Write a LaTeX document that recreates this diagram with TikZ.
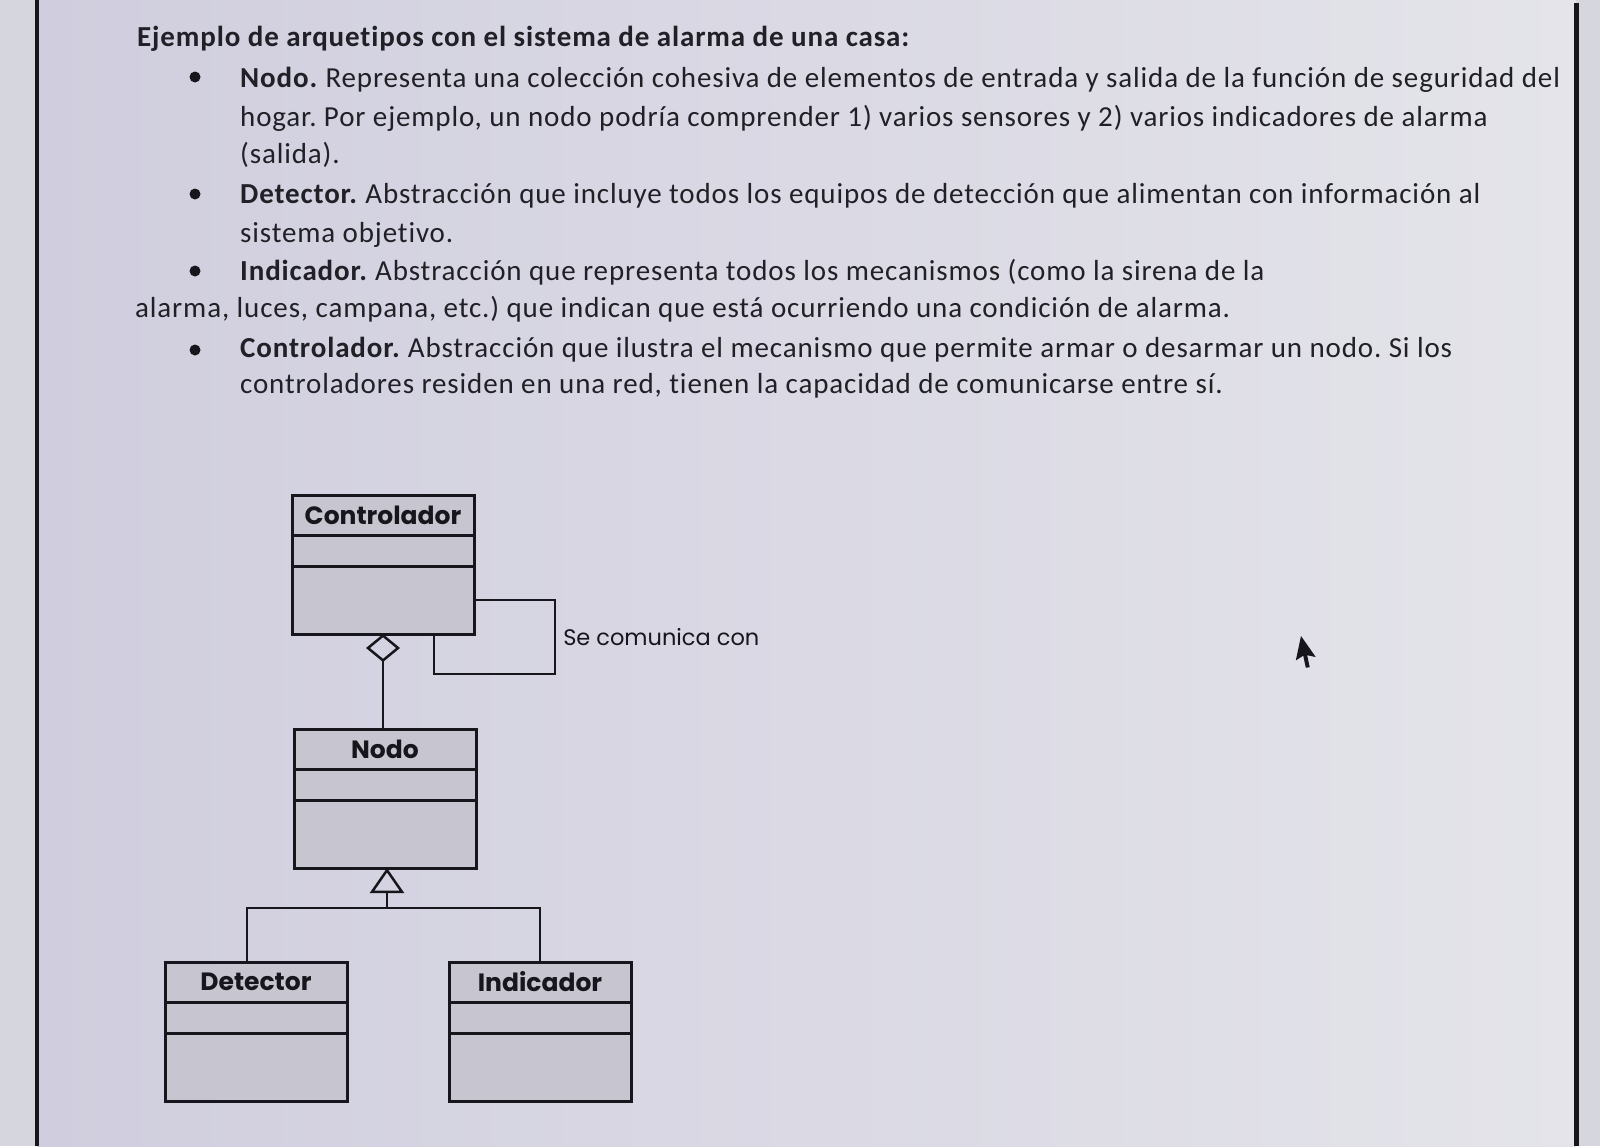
\documentclass[tikz,border=0pt]{standalone}
\usepackage{fontspec}
\setmainfont{Carlito}[LetterSpace=3, Ligatures=NoCommon]
\newfontfamily\umlfont{Poppins}
\usepackage{tikz}
\usetikzlibrary{positioning,arrows.meta}
\definecolor{fondo}{RGB}{208,206,222}
\definecolor{fondoclaro}{RGB}{228,228,234}
\definecolor{margen}{RGB}{214,214,222}
\definecolor{caja}{RGB}{198,197,208}
\definecolor{tinta}{RGB}{22,22,28}
\definecolor{letra}{RGB}{32,32,38}
\frenchspacing

\begin{document}
\begin{tikzpicture}[x=1pt,y=-1pt]
\tikzset{
  linea/.style={draw=tinta, line width=2.5pt},
  cabecera/.style={draw=tinta, line width=3pt, fill=caja, minimum width=182pt,
    minimum height=40pt, inner sep=0pt, outer sep=0pt, text=tinta,
    font=\umlfont\bfseries\fontsize{25}{25}\selectfont},
  atributos/.style={cabecera, minimum height=31pt},
  operaciones/.style={cabecera, minimum height=68pt},
  texto/.style={anchor=base west, inner sep=0pt, text=letra,
    font=\fontsize{29}{33}\selectfont},
}
\useasboundingbox (0,0) rectangle (1600,1146);
\fill[margen] (0,0) rectangle (1600,1146);
\shade[left color=fondo, right color=fondoclaro] (37,0) rectangle (1576,1146);
\draw[tinta, line width=4pt] (37,0) -- (37,1146);
\draw[tinta, line width=5pt] (1576,3) -- (1576,1146);

\node[texto, font=\bfseries\fontsize{29}{33}\selectfont] (titulo) at (137,46) {Ejemplo de arquetipos con el sistema de alarma de una casa:};
\foreach \y in {77,194,271,350}
  \fill[tinta] (195,\y) circle (5.5);
\node[texto] (lin1) at (240,87) {\textbf{Nodo.} Representa una colección cohesiva de elementos de entrada y salida de la función de seguridad del};
\node[texto] (lin2) at (240,126) {hogar. Por ejemplo, un nodo podría comprender 1) varios sensores y 2) varios indicadores de alarma};
\node[texto] (lin3) at (240,163) {(salida).};
\node[texto] (lin4) at (240,203) {\textbf{Detector.} Abstracción que incluye todos los equipos de detección que alimentan con información al};
\node[texto] (lin5) at (240,242) {sistema objetivo.};
\node[texto] (lin6) at (240,280) {\textbf{Indicador.} Abstracción que representa todos los mecanismos (como la sirena de la};
\node[texto] (lin7) at (135,317) {alarma, luces, campana, etc.) que indican que está ocurriendo una condición de alarma.};
\node[texto] (lin8) at (240,357) {\textbf{Controlador.} Abstracción que ilustra el mecanismo que permite armar o desarmar un nodo. Si los};
\node[texto] (lin9) at (240,393) {controladores residen en una red, tienen la capacidad de comunicarse entre sí.};

\node[cabecera] (ctrlH) at (383,515) {Controlador};
\node[atributos, below=0pt of ctrlH] (ctrlA) {};
\node[operaciones, below=0pt of ctrlA] (ctrlO) {};

\node[cabecera] (nodoH) at (385,749) {Nodo};
\node[atributos, below=0pt of nodoH] (nodoA) {};
\node[operaciones, below=0pt of nodoA] (nodoO) {};

\node[cabecera] (detH) at (256,982) {Detector};
\node[atributos, below=0pt of detH] (detA) {};
\node[operaciones, below=0pt of detA] (detO) {};

\node[cabecera] (indH) at (540,982) {Indicador};
\node[atributos, below=0pt of indH] (indA) {};
\node[operaciones, below=0pt of indA] (indO) {};

\coordinate (lazo) at (555,674);
\draw[linea] (ctrlO.east) -| node[pos=0.75, right=7pt, inner sep=0pt, text=tinta,
  font=\umlfont\fontsize{22.5}{22.5}\selectfont] (comunica) {Se comunica con}
  (lazo) -| ([xshift=51pt]ctrlO.south);

\draw[linea, -{Diamond[open, length=28pt, width=34pt]}] (ctrlO.south |- nodoH.north) -- (ctrlO.south);

\coordinate (union) at (387,908);
\draw[linea, -{Triangle[open, length=25pt, width=34pt]}] (union) -- (union |- nodoO.south);
\draw[linea] ([xshift=-9pt]detH.north) |- (union) -| (indH.north);

\begin{scope}[shift={(1301,636)}, rotate=-12, scale=1.25]
  \fill[tinta] (0,0) -- (0,20) -- (5,15) -- (9,24) -- (12,23) -- (8,14) -- (15,14) -- cycle;
\end{scope}
\end{tikzpicture}
\end{document}
